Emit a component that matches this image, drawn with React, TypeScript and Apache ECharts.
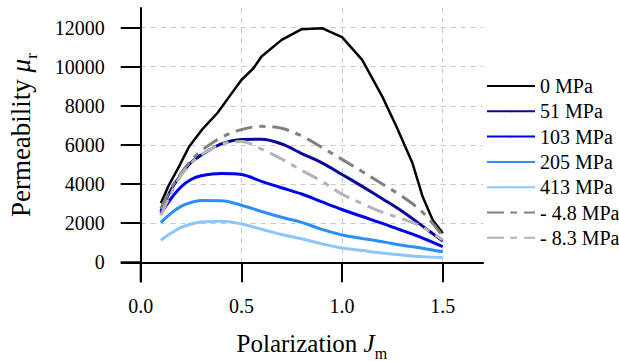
import React, { useEffect, useRef } from 'react';
import * as echarts from 'echarts';

// Polarization values for the smooth curves
const J = [0.1, 0.15, 0.2, 0.25, 0.3, 0.4, 0.5, 0.6, 0.7, 0.8, 0.9, 1.0, 1.1, 1.2, 1.3, 1.4, 1.5];
// 0 MPa curve (piecewise linear) sample positions
const J0 = [0.1, 0.14, 0.19, 0.24, 0.31, 0.38, 0.44, 0.5, 0.56, 0.6, 0.7, 0.8, 0.9, 1.0, 1.1, 1.2, 1.27, 1.35, 1.4, 1.45, 1.5];

const mu0 = [3020, 3950, 4890, 5910, 6850, 7620, 8470, 9320, 9920, 10520, 11370, 11920, 11970, 11510, 10350, 8470, 6940, 5060, 3360, 2160, 1480];
const mu51 = [2600, 3700, 4470, 5100, 5480, 6050, 6280, 6290, 6050, 5560, 5080, 4490, 3880, 3250, 2600, 1850, 1080];
const mu103 = [2500, 3250, 3850, 4230, 4420, 4540, 4490, 4140, 3810, 3490, 3090, 2700, 2340, 1990, 1620, 1240, 800];
const mu205 = [2030, 2500, 2860, 3060, 3160, 3150, 2920, 2600, 2300, 2040, 1680, 1400, 1220, 1050, 870, 720, 540];
const mu413 = [1130, 1480, 1780, 1960, 2060, 2100, 1960, 1690, 1420, 1200, 940, 730, 600, 470, 370, 290, 250];
const muM48 = [2750, 3750, 4550, 5200, 5700, 6380, 6780, 6950, 6850, 6460, 5870, 5260, 4640, 4000, 3360, 2560, 1350];
const muM83 = [2400, 3500, 4450, 5050, 5500, 6030, 6170, 5780, 5280, 4700, 4140, 3480, 3000, 2560, 2220, 1800, 1140];

const seriesNames = ['0 MPa', '51 MPa', '103 MPa', '205 MPa', '413 MPa', '- 4.8 MPa', '- 8.3 MPa'];
const xTicks = [0, 0.5, 1.0, 1.5];
const yTicks = [0, 2000, 4000, 6000, 8000, 10000, 12000];

const FONT = 'Liberation Serif';

export default function App() {
  const ref = useRef<HTMLDivElement>(null);
  useEffect(() => {
    const chart = echarts.init(ref.current!, null, { renderer: 'svg' });
    const dashDot = [17, 7, 6, 7];
    const mk = (name: string, xs: number[], ys: number[], color: string, width: number, type: any, smooth: any, z: number) => ({
      name,
      type: 'line',
      data: xs.map((x, i) => [x, ys[i]]),
      showSymbol: false,
      symbol: 'none',
      smooth,
      z,
      lineStyle: { color, width, type },
      itemStyle: { color },
    });
    const richX = {
      i: { fontFamily: FONT, fontSize: 25, fontStyle: 'italic', color: '#000' },
      s: { fontFamily: FONT, fontSize: 16, padding: [20, 0, 0, 0], color: '#000' },
    };
    const richY = {
      i: { fontFamily: FONT, fontSize: 27, fontStyle: 'italic', color: '#000' },
      s: { fontFamily: FONT, fontSize: 17, padding: [20, 0, 0, 0], color: '#000' },
    };
    chart.setOption({
      animation: false,
      backgroundColor: '#fff',
      textStyle: { fontFamily: FONT },
      grid: { left: 140.7, right: 136, top: 8, bottom: 98.7, containLabel: false, outerBoundsMode: 'none' },
      legend: {
        orient: 'vertical',
        left: 486,
        top: 76,
        padding: 0,
        itemWidth: 48,
        itemHeight: 2,
        itemGap: 5.3,
        data: seriesNames,
        textStyle: { fontFamily: FONT, fontSize: 20, color: '#000', lineHeight: 20 },
      },
      xAxis: {
        type: 'value',
        min: 0,
        max: 1.7,
        interval: 0.5,
        name: 'Polarization {i|J}{s|m}',
        nameLocation: 'middle',
        nameGap: 63,
        nameTextStyle: { fontFamily: FONT, fontSize: 25, color: '#000', rich: richX },
        axisLine: { show: true, onZero: false, lineStyle: { color: '#000', width: 2 } },
        axisTick: { show: true, inside: false, length: 20, customValues: xTicks, lineStyle: { color: '#000', width: 2 } },
        axisLabel: {
          customValues: xTicks,
          margin: 34,
          fontFamily: FONT,
          fontSize: 20,
          color: '#000',
          formatter: (v: number) => v.toFixed(1),
        },
        splitLine: { show: true, lineStyle: { color: '#c8c8c8', width: 1, type: [5, 5] } },
      },
      yAxis: {
        type: 'value',
        min: 0,
        max: 13000,
        interval: 2000,
        name: 'Permeability {i|μ}{s|r}',
        nameLocation: 'middle',
        nameGap: 101,
        nameTextStyle: { fontFamily: FONT, fontSize: 27, color: '#000', rich: richY },
        axisLine: { show: true, onZero: false, lineStyle: { color: '#000', width: 2 } },
        axisTick: { show: true, inside: false, length: 20, customValues: yTicks, lineStyle: { color: '#000', width: 2 } },
        axisLabel: {
          customValues: yTicks,
          margin: 36,
          fontFamily: FONT,
          fontSize: 20,
          color: '#000',
          formatter: (v: number) => String(Math.round(v)),
        },
        splitLine: { show: true, lineStyle: { color: '#c8c8c8', width: 1, type: [5, 5] } },
      },
      series: [
        mk(seriesNames[0], J0, mu0, '#000000', 2.5, 'solid', false, 3),
        mk(seriesNames[1], J, mu51, '#08089a', 3, 'solid', 0.35, 3),
        mk(seriesNames[2], J, mu103, '#0000f0', 3, 'solid', 0.35, 3),
        mk(seriesNames[3], J, mu205, '#2b8ff5', 3, 'solid', 0.35, 3),
        mk(seriesNames[4], J, mu413, '#8ec5ff', 3, 'solid', 0.35, 3),
        mk(seriesNames[5], J, muM48, '#808080', 3, dashDot, 0.35, 3),
        mk(seriesNames[6], J, muM83, '#b4b4b4', 3, dashDot, 0.35, 3),
      ],
    });
    const o = chart.convertToPixel({ gridIndex: 0 }, [0, 0]) as number[];
    chart.setOption({
      graphic: [
        { type: 'line', silent: true, z: 10, shape: { x1: o[0] - 20, y1: o[1], x2: o[0], y2: o[1] }, style: { stroke: '#000', lineWidth: 2 } },
        { type: 'line', silent: true, z: 10, shape: { x1: o[0], y1: o[1], x2: o[0], y2: o[1] + 20 }, style: { stroke: '#000', lineWidth: 2 } },
      ],
    });
    return () => chart.dispose();
  }, []);
  return <div ref={ref} style={{ position: 'absolute', left: 0, top: 0, width: 619, height: 361 }} />;
}
